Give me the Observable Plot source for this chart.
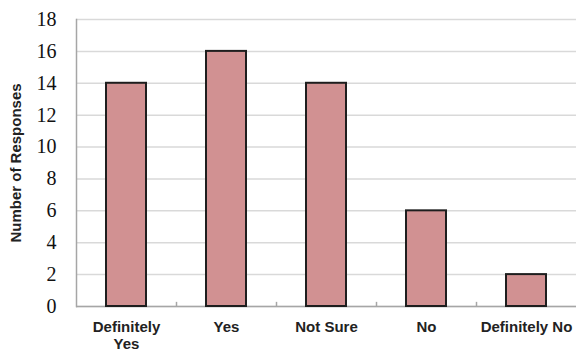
<!DOCTYPE html>
<html>
<head>
<meta charset="utf-8">
<script src="https://cdn.jsdelivr.net/npm/d3@7"></script>
<script src="https://cdn.jsdelivr.net/npm/@observablehq/plot@0.6"></script>
<style>
  html, body { margin: 0; padding: 0; background: #fff; overflow: hidden; }
  #chart svg { display: block; overflow: visible; }
</style>
</head>
<body>
<div id="chart"></div>
<script>
// Survey answers and how many respondents chose each
const categories = ["Definitely Yes", "Yes", "Not Sure", "No", "Definitely No"];
const responses = [14, 16, 14, 6, 2];
const yTicks = [0, 2, 4, 6, 8, 10, 12, 14, 16, 18];
const xTickLabels = ["Definitely\nYes", "Yes", "Not Sure", "No", "Definitely No"];

const data = categories.map((c, i) => ({category: c, count: responses[i]}));
const labelOf = new Map(categories.map((c, i) => [c, xTickLabels[i]]));

const width = 576, height = 352;
const marginLeft = 76, marginRight = 0, marginTop = 19, marginBottom = 46;
const step = (width - marginLeft - marginRight) / categories.length;

const chart = Plot.plot({
  width, height, marginLeft, marginRight, marginTop, marginBottom,
  x: {domain: categories, paddingInner: 0.6, paddingOuter: 0.3, axis: null},
  y: {domain: [0, 18], axis: null},
  marks: [
    Plot.gridY(yTicks, {stroke: "#d9d9d9", strokeOpacity: 1, strokeWidth: 1.5}),
    Plot.frame({anchor: "left", stroke: "#a6a6a6", strokeWidth: 1.5}),
    Plot.ruleY([0], {stroke: "#a6a6a6", strokeWidth: 1.5}),
    // small ticks separating the categories along the baseline
    Plot.ruleX(categories.slice(1), {x: d => d, y1: 0, y2: 0.26, dx: -step / 2, stroke: "#a6a6a6", strokeWidth: 1.5}),
    Plot.barY(data, {x: "category", y: "count", fill: "#d19192", stroke: "#1e1e1e", strokeWidth: 2}),
    Plot.axisY(yTicks, {
      tickSize: 0, tickPadding: 20,
      fontSize: 20, fontFamily: "Liberation Serif", fill: "#111",
      label: "Number of Responses", labelAnchor: "center", labelArrow: "none", labelOffset: 66
    }),
    Plot.axisX({
      tickSize: 0, tickPadding: 14,
      tickFormat: d => labelOf.get(d),
      fontSize: 15, fontWeight: "bold", fontFamily: "Liberation Sans", fill: "#222",
      lineHeight: 1.1, label: null
    })
  ],
  style: {background: "#fff"}
});

// y axis title styling
chart.querySelectorAll("[aria-label='y-axis label'] text").forEach(t => {
  t.setAttribute("font-family", "Liberation Sans");
  t.setAttribute("font-weight", "bold");
  t.setAttribute("font-size", "15");
  t.setAttribute("fill", "#222");
});

document.getElementById("chart").appendChild(chart);
</script>
</body>
</html>
